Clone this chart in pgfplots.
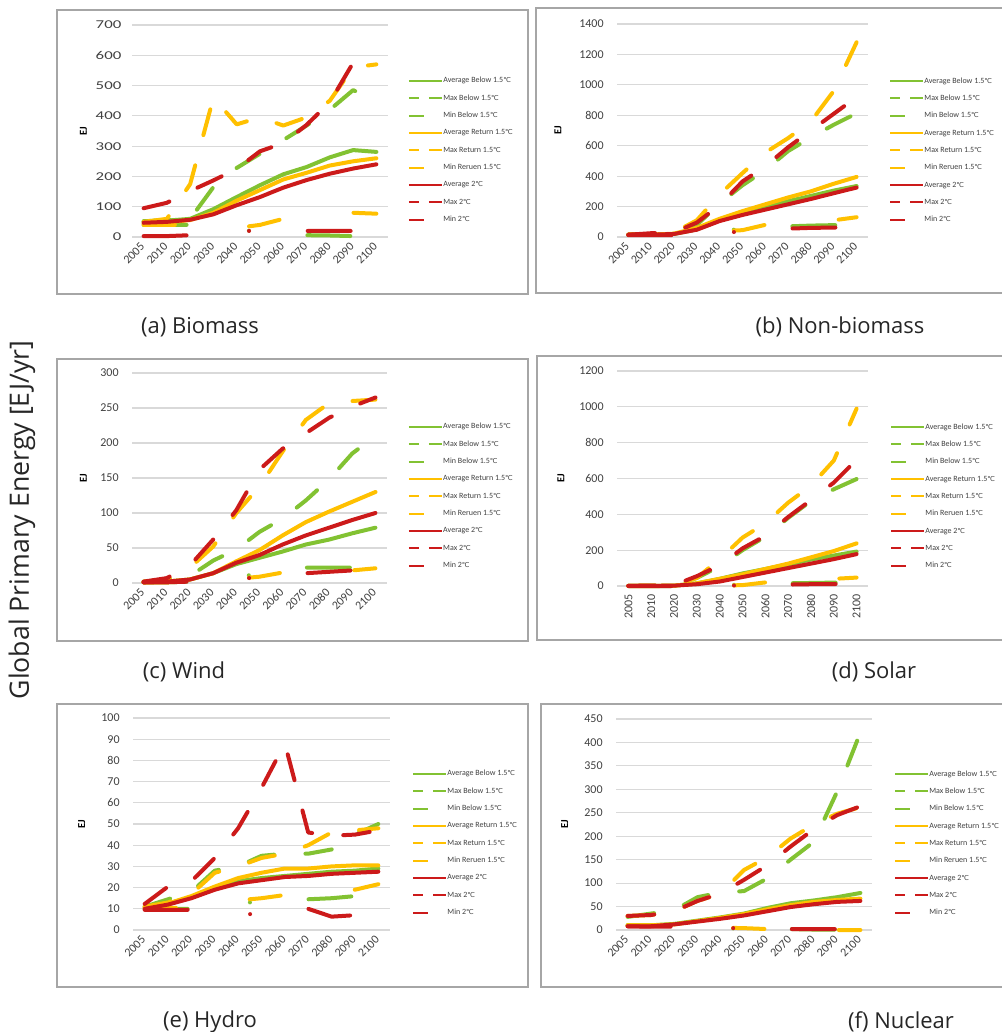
\documentclass[border=0pt]{standalone}
\usepackage{pgfplots}
\pgfplotsset{compat=1.18}
\usepackage{pgfplotstable}
\usepackage{graphicx}
\usepackage{fontspec}
\setmainfont{Carlito}
\newfontfamily\capfont{Open Sans}
\newfontfamily\symfont[Scale=0.85]{DejaVu Sans}
\newcommand{\dC}{{\symfont ℃}}

\definecolor{cg}{HTML}{82C232}
\definecolor{cy}{HTML}{FFC000}
\definecolor{cr}{HTML}{CC1A1A}
\definecolor{gridc}{HTML}{D9D9D9}
\definecolor{framec}{HTML}{A6A6A6}
\definecolor{tickc}{HTML}{404040}

% columns: G = below 1.5, Y = return 1.5, R = 2 deg; A avg, X max, N min
\pgfplotstableread{
x  GA   GX   GN  YA   YX   YN  RA   RX   RN
0  52   52   40  45   50   40  47   95   3
1  54   56   40  48   60   40  50   113  3
2  60   60   40  56   175  40  57   152  6
3  92   165  30  80   460  35  75   187  12
4  132  228  22  120  372  30  105  225  20
5  171  275  20  155  395  40  132  283  20
6  207  320  12  190  368  60  163  310  20
7  231  368  6   212  395  65  188  370  20
8  263  420  5   236  450  72  209  445  20
9  287  485  3   250  560  80  226  575  20
10 281  450  3   260  570  77  240  590  20
}\biomass

\pgfplotstableread{
x  GA   GX   GN  YA   YX    YN   RA   RX   RN
0  15   15   15  15   15    15   15   15   12
1  15   20   15  15   20    15   15   25   12
2  20   30   15  22   30    15   20   30   12
3  50   80   30  60   110   25   48   95   20
4  110  220  45  120  280   38   105  210  28
5  155  340  50  170  420   45   145  365  35
6  195  440  60  215  555   80   180  465  45
7  235  565  70  260  650   90   215  590  55
8  270  655  75  300  760   100  250  700  60
9  305  738  78  350  960   110  288  810  62
10 335  813  80  395  1280  130  325  920  65
}\nonbio

\pgfplotstableread{
x  GA   GX   GN  YA   YX   YN  RA   RX   RN
0  1    2    1   1    2    1   1    2    1
1  2    4    1   2    5    1   2    7    1
2  5    10   2   5    22   2   5    25   2
3  14   32   5   14   52   4   14   62   4
4  27   48   10  31   100  6   29   104  6
5  36   73   12  47   138  9   40   162  8
6  45   92   18  68   188  15  55   192  10
7  55   118  22  87   233  16  68   214  14
8  62   148  22  102  257  17  79   236  16
9  71   185  22  116  260  18  90   252  18
10 79   210  22  130  262  21  100  265  20
}\wind

\pgfplotstableread{
x  GA   GX   GN  YA   YX   YN  RA   RX   RN
0  1    1    0   1    1    0   1    1    0
1  1    2    0   1    2    0   1    2    0
2  2    5    0   2    5    0   2    5    0
3  15   45   2   15   45   1   10   55   1
4  40   110  5   40   150  2   25   115  2
5  70   200  8   65   270  5   50   210  3
6  95   275  12  95   350  20  75   280  5
7  120  380  15  125  465  28  100  385  8
8  148  475  17  160  560  35  125  480  10
9  170  540  19  195  700  40  150  577  11
10 192  597  20  238  990  47  178  705  12
}\solar

\pgfplotstableread{
x  GA    GX   GN    YA    YX   YN    RA    RX    RN
0  11    11   10    10.5  11   10.5  10    12.3  9.5
1  12.5  14.5 10    12.5  13   10.5  12    20.5  9.5
2  15.5  18   10    16    17   10.5  15    23    9.5
3  20    28   11    20.5  27   12    19    34    8.5
4  23    30   12.5  24.5  30   14    22    48    7.5
5  24.5  35   13.5  27    34   15    23.5  67    7.5
6  25.5  36   14    29    36   16.5  25    88    9
7  26.5  36   14.5  29    40   17    25.5  46    10
8  27.5  38   15    30    46   18    26.5  44.5  6.3
9  28    45   16    30.5  47   19    27    45    7
10 29    50   17    30.5  48   21.6  27.5  47    7.5
}\hydro

\pgfplotstableread{
x  GA   GX   GN  YA   YX   YN   RA   RX   RN
0  10   28   10  10   30   10   8    30   8
1  10   35   10  10   32   10   8    32   7
2  13   42   10  12   40   10   12   40   7
3  20   70   6   19   62   7    18   62   5
4  27   80   4   26   78   5    24   78   4
5  35   83   3   34   128  4    31   107  4
6  47   110  2   44   155  2    40   138  3
7  57   150  2   53   195  1    49   178  2
8  63   188  1   60   225  0.5  55   215  2
9  70   295  1   64   248  0    60   245  2
10 79   421  1   67   262  0    62   264  2
}\nuclear

\pgfplotsset{
  avg/.style={forget plot, no markers, line width=3pt, line cap=round, line join=round, solid},
  mx/.style={forget plot, no markers, line width=3pt, line cap=round, line join=round,
    dash pattern=on 20pt off 23.5pt},
  mnA/.style={forget plot, no markers, line width=3pt, line cap=round, line join=round,
    dash pattern=on 32.2pt off 47pt on 0.01pt off 44pt},
  mnB/.style={forget plot, no markers, line width=3pt, line cap=round, line join=round,
    dash pattern=on 23.4pt off 55.8pt},
  % legend samples in the given colour
  legavg/.style={legend image code/.code={%
    \draw[draw=#1, line width=1.5pt, line cap=butt] (0pt,0pt) -- (25pt,0pt);}},
  legmax/.style={legend image code/.code={%
    \draw[draw=#1, line width=1.5pt, line cap=butt] (0pt,0pt) -- (7.5pt,0pt) (15pt,0pt) -- (25pt,0pt);}},
  legmin/.style={legend image code/.code={%
    \draw[draw=#1, line width=1.5pt, line cap=butt] (0pt,0pt) -- (11pt,0pt);
    \path[draw=none, fill=none] (0pt,0pt) -- (25pt,0pt);}},
  panel/.style={
    scale only axis, anchor=south west, clip=false,
    xmin=-0.5, xmax=10.5, ymin=0,
    xtick={0,...,10},
    xticklabels={2005,2010,2020,2030,2040,2050,2060,2070,2080,2090,2100},
    ymajorgrids, grid style={draw=gridc, line width=0.8pt},
    axis line style={draw=none}, major tick length=0pt,
    tick label style={font=\fontsize{9}{9}\selectfont, text=tickc},
    xticklabel shift=5pt,
    yticklabel style={xshift=-6.5pt},
    /pgf/number format/assume math mode=true,
    /pgf/number format/set thousands separator={},
    ylabel={EJ},
    ylabel style={font=\bfseries\fontsize{8}{8}\selectfont, anchor=center, text=black},
    legend cell align=left,
    legend style={draw=none, fill=none, anchor=north west, inner sep=0pt, outer sep=0pt,
      font=\fontsize{6}{6}\selectfont, text=tickc, row sep=7pt,
      nodes={inner sep=0pt, text height=4.5pt, text depth=1.5pt},
      /tikz/every even column/.append style={column sep=3pt}},
  },
  slanted/.style={xticklabel style={rotate=45, anchor=east, inner sep=1pt}},
  upright/.style={xticklabel style={rotate=90, anchor=east, inner sep=1pt}},
}

\newcommand{\series}[1]{%
  \addplot[avg, color=cg] table[x=x, y=GA]{#1};
  \addplot[mx,  color=cg] table[x=x, y=GX]{#1};
  \addplot[mnA, color=cg] table[x=x, y=GN]{#1};
  \addplot[avg, color=cy] table[x=x, y=YA]{#1};
  \addplot[mx,  color=cy] table[x=x, y=YX]{#1};
  \addplot[mnB, color=cy] table[x=x, y=YN]{#1};
  \addplot[avg, color=cr] table[x=x, y=RA]{#1};
  \addplot[mx,  color=cr] table[x=x, y=RX]{#1};
  \addplot[mnA, color=cr] table[x=x, y=RN]{#1};
  \addlegendimage{legavg=cg} \addlegendentry{Average Below 1.5\dC}
  \addlegendimage{legmax=cg} \addlegendentry{Max Below 1.5\dC}
  \addlegendimage{legmin=cg} \addlegendentry{Min Below 1.5\dC}
  \addlegendimage{legavg=cy} \addlegendentry{Average Return 1.5\dC}
  \addlegendimage{legmax=cy} \addlegendentry{Max Return 1.5\dC}
  \addlegendimage{legmin=cy} \addlegendentry{Min Reruen 1.5\dC}
  \addlegendimage{legavg=cr} \addlegendentry{Average 2\dC}
  \addlegendimage{legmax=cr} \addlegendentry{Max 2\dC}
  \addlegendimage{legmin=cr} \addlegendentry{Min 2\dC}
}

\begin{document}
\begin{tikzpicture}
\path[use as bounding box] (0pt,0pt) rectangle (751.5pt,-774pt);

% panel frames
\begin{scope}[draw=framec, line width=1.1pt]
\draw (42.75pt,-7.5pt) rectangle (396pt,-220.5pt);
\draw (402pt,-6pt) rectangle (760pt,-219.75pt);
\draw (42.75pt,-269.25pt) rectangle (396pt,-480.75pt);
\draw (402.75pt,-267pt) rectangle (760pt,-480pt);
\draw (42.75pt,-528pt) rectangle (396pt,-740.25pt);
\draw (405.75pt,-528pt) rectangle (760pt,-740.25pt);
\end{scope}

% (a) Biomass
\begin{axis}[panel, slanted, at={(99pt,-177.75pt)}, width=192pt, height=159pt,
  ymax=700, ytick distance=100,
  yticklabel style={xshift=2pt},
  yticklabel={\scalebox{1.4}[1]{\pgfmathprintnumber{\tick}}},
  ylabel style={at={(axis description cs:-0.19,0.5)}},
  legend style={at={(axis description cs:1.078,0.755)}}]
\series{\biomass}
\end{axis}

% (b) Non-biomass
\begin{axis}[panel, slanted, at={(462.75pt,-177.75pt)}, width=188.25pt, height=159.75pt,
  ymax=1400, ytick distance=200,
  ylabel style={at={(axis description cs:-0.235,0.5)}},
  legend style={at={(axis description cs:1.084,0.751)}}]
\series{\nonbio}
\end{axis}

% (c) Wind
\begin{axis}[panel, slanted, at={(99pt,-437.25pt)}, width=191.25pt, height=157.5pt,
  ymax=300, ytick distance=50,
  ylabel style={at={(axis description cs:-0.19,0.5)}},
  legend style={at={(axis description cs:1.082,0.762)}}]
\series{\wind}
\end{axis}

% (d) Solar
\begin{axis}[panel, upright, at={(462.75pt,-439.5pt)}, width=188.25pt, height=161.25pt,
  ymax=1200, ytick distance=200,
  ylabel style={at={(axis description cs:-0.223,0.5)}},
  legend style={at={(axis description cs:1.088,0.758)}}]
\series{\solar}
\end{axis}

% (e) Hydro
\begin{axis}[panel, slanted, at={(99.75pt,-697.5pt)}, width=192.75pt, height=159pt,
  ymax=100, ytick distance=10,
  ylabel style={at={(axis description cs:-0.2,0.5)}},
  legend style={at={(axis description cs:1.086,0.755)}}]
\series{\hydro}
\end{axis}

% (f) Nuclear
\begin{axis}[panel, slanted, at={(462pt,-697.5pt)}, width=192pt, height=158.25pt,
  ymax=450, ytick distance=50,
  ylabel style={at={(axis description cs:-0.2,0.5)}},
  legend style={at={(axis description cs:1.086,0.758)}}]
\series{\nuclear}
\end{axis}

% captions
\begin{scope}[every node/.style={font=\capfont\fontsize{16.5}{16.5}\selectfont, text=black!85}]
\node at (150pt,-245.25pt) {(a) Biomass};
\node at (630pt,-245.25pt) {(b) Non-biomass};
\node at (138pt,-504pt) {(c) Wind};
\node at (655.5pt,-504pt) {(d) Solar};
\node at (157.5pt,-766pt) {(e) Hydro};
\node at (675.75pt,-766pt) {(f) Nuclear};
\end{scope}
\node[rotate=90, font=\capfont\fontsize{20}{20}\selectfont, text=black!85] at (16.5pt,-390pt) {Global Primary Energy [EJ/yr]};
\end{tikzpicture}
\end{document}
